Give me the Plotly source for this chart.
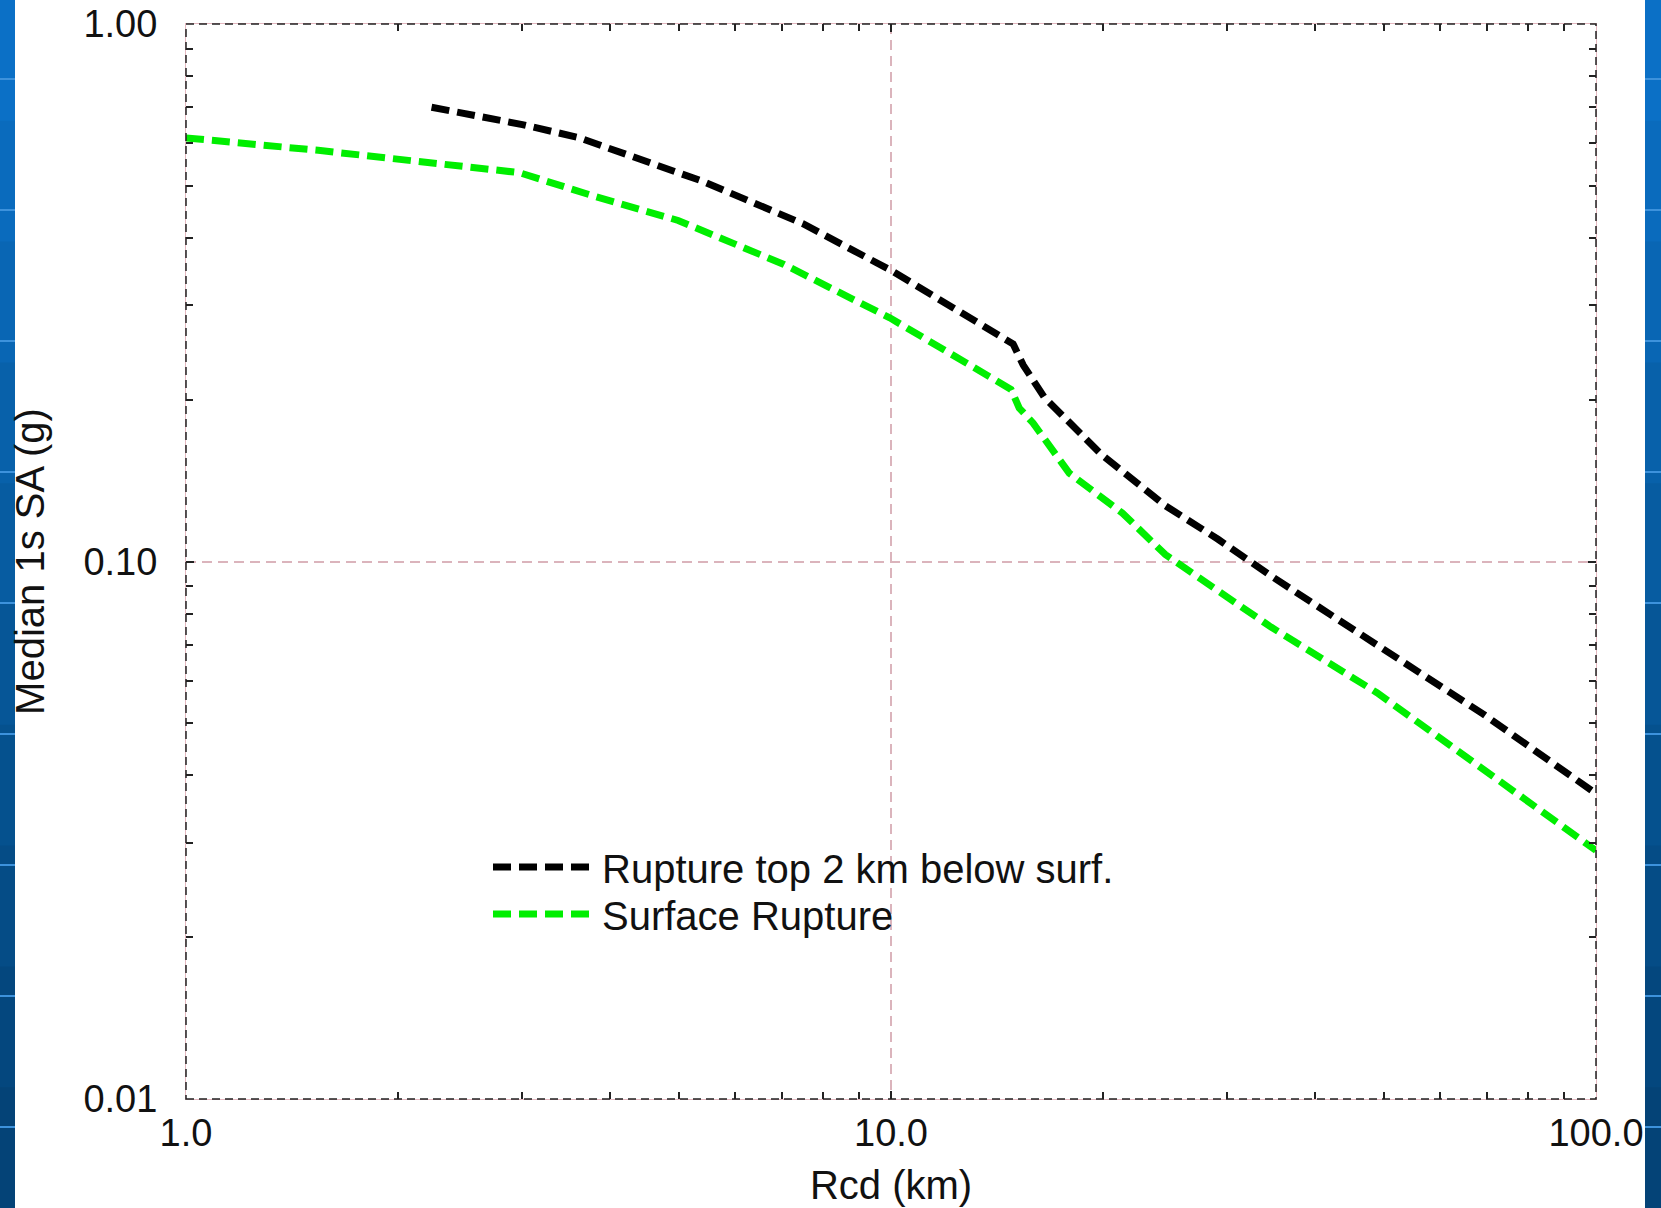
import plotly.graph_objects as go

# Median 1 s spectral acceleration vs. closest distance to rupture
rcd_buried = [2.23, 3.0, 3.6, 5.4, 7.5, 10.0, 14.9, 15.4, 16.5, 17.9, 19.9, 24.5, 29.1, 34.6, 48.9, 69.2, 100.0]
sa_buried = [0.70, 0.65, 0.615, 0.51, 0.425, 0.348, 0.254, 0.232, 0.202, 0.181, 0.158, 0.127, 0.110, 0.094, 0.070, 0.052, 0.037]

rcd_surface = [1.0, 1.54, 2.97, 3.78, 4.99, 7.05, 9.96, 14.8, 15.2, 15.9, 17.9, 21.3, 24.5, 34.6, 48.9, 69.2, 100.0]
sa_surface = [0.614, 0.582, 0.529, 0.479, 0.431, 0.357, 0.284, 0.209, 0.193, 0.181, 0.146, 0.123, 0.103, 0.0755, 0.057, 0.041, 0.029]

series_names = ["Rupture top 2 km below surf.", "Surface Rupture"]
series_colors = ["#000000", "#00ee00"]

x_major = [1, 10, 100]
x_major_text = ["1.0", "10.0", "100.0"]
x_minor = [2, 3, 4, 5, 6, 7, 8, 9, 20, 30, 40, 50, 60, 70, 80, 90]
y_major = [0.01, 0.1, 1.0]
y_major_text = ["0.01", "0.10", "1.00"]
y_minor = [0.02, 0.03, 0.04, 0.05, 0.06, 0.07, 0.08, 0.09, 0.2, 0.3, 0.4, 0.5, 0.6, 0.7, 0.8, 0.9]

W, H = 1661, 1208
ML, MR, MT, MB = 186, 65, 24, 109
PW, PH = W - ML - MR, H - MT - MB
FONT = "Liberation Sans, Arial, Helvetica, sans-serif"


def px_x(p):
    return (p - ML) / PW


def px_y(p):
    return (H - MB - p) / PH


fig = go.Figure()
for xs, ys, name, col, lg in [
    (rcd_buried, sa_buried, series_names[0], series_colors[0], "legend"),
    (rcd_surface, sa_surface, series_names[1], series_colors[1], "legend2"),
]:
    fig.add_trace(go.Scatter(
        x=xs, y=ys, mode="lines", name=name, legend=lg,
        line=dict(color=col, width=7, dash="18px,8px"),
    ))

shapes = []
# slide background strips with a vertical blue gradient
blues = ["#0b70c6", "#0a6bbd", "#0966b4", "#0861aa", "#075ca1", "#065697",
         "#05518e", "#054c86", "#04477e", "#044377"]
band = H / len(blues)
for i, c in enumerate(blues):
    for x0, x1 in [(0, 15), (1645, W)]:
        shapes.append(dict(type="rect", xref="paper", yref="paper",
                           x0=px_x(x0), x1=px_x(x1),
                           y0=px_y((i + 1) * band + 1), y1=px_y(i * band),
                           fillcolor=c, line=dict(width=0), layer="below"))
for yy in range(79, H, 131):
    for x0, x1 in [(0, 15), (1645, W)]:
        shapes.append(dict(type="line", xref="paper", yref="paper",
                           x0=px_x(x0), x1=px_x(x1), y0=px_y(yy), y1=px_y(yy),
                           line=dict(color="#3d92dc", width=2), layer="below"))
# white slide body
shapes.append(dict(type="rect", xref="paper", yref="paper",
                   x0=px_x(15), x1=px_x(1645), y0=px_y(H + 5), y1=px_y(-5),
                   fillcolor="white", line=dict(width=0), layer="below"))
# dashed plot frame
shapes.append(dict(type="rect", xref="paper", yref="paper", x0=0, x1=1, y0=0, y1=1,
                   line=dict(color="#222222", width=1.5, dash="8px,5px"),
                   fillcolor="rgba(0,0,0,0)", layer="above"))

axis_common = dict(
    type="log", ticks="inside", ticklen=8, tickwidth=1.5, tickcolor="#222222",
    showgrid=True, gridcolor="#dbb4bc", gridwidth=1.5, griddash="10px,6px",
    showline=True, linecolor="#e4b8c0", linewidth=1, mirror="ticks",
    zeroline=False, tickmode="array", automargin=False,
    tickfont=dict(family=FONT, size=38, color="#111111"),
)

legend_common = dict(
    x=px_x(488), xanchor="left", yanchor="middle",
    bgcolor="rgba(0,0,0,0)", borderwidth=0,
    font=dict(family=FONT, size=40, color="#111111"),
    itemwidth=104,
)

fig.update_layout(
    width=W, height=H,
    margin=dict(l=ML, r=MR, t=MT, b=MB, pad=0),
    paper_bgcolor="#0861aa", plot_bgcolor="white",
    shapes=shapes,
    showlegend=True,
    legend=dict(legend_common, y=px_y(867)),
    legend2=dict(legend_common, y=px_y(914)),
    xaxis=dict(
        axis_common, range=[0, 2], tickvals=x_major, ticktext=x_major_text,
        minor=dict(tickmode="array", tickvals=x_minor, ticks="inside", ticklen=7,
                   tickwidth=1.5, tickcolor="#222222", showgrid=False),
        ticklabelstandoff=0,
        title=dict(text="Rcd (km)", font=dict(family=FONT, size=40, color="#111111"), standoff=18),
    ),
    yaxis=dict(
        axis_common, range=[-2, 0], tickvals=y_major, ticktext=y_major_text,
        minor=dict(tickmode="array", tickvals=y_minor, ticks="inside", ticklen=7,
                   tickwidth=1.5, tickcolor="#222222", showgrid=False),
        ticklabelstandoff=20,
        title=dict(text="Median 1s SA (g)", font=dict(family=FONT, size=40, color="#111111"), standoff=26),
    ),
)

fig.write_html("out.html")
